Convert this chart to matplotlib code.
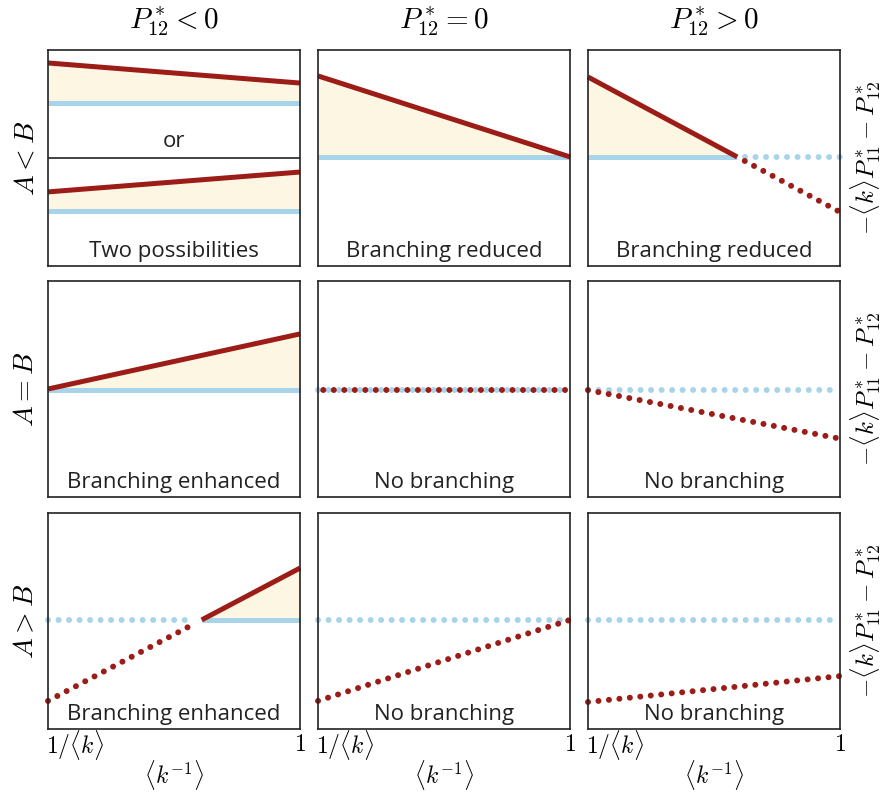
import numpy as np
import matplotlib.pyplot as plt

plt.rcParams['mathtext.fontset'] = 'cm'
plt.rcParams['font.family'] = ['Open Sans', 'DejaVu Sans']

RED = "#9c1c17"
BLUE = "#a8d4ea"
FILL = "#fdf6e2"

col_titles = [r"$P^*_{12} < 0$", r"$P^*_{12} = 0$", r"$P^*_{12} > 0$"]
row_labels = [r"$A < B$", r"$A = B$", r"$A > B$"]
right_label = r"$-\langle k\rangle P^*_{11} - P^*_{12}$"
captions = [["Two possibilities", "Branching reduced", "Branching reduced"],
            ["Branching enhanced", "No branching", "No branching"],
            ["Branching enhanced", "No branching", "No branching"]]

# red line end points (left, right) and blue level, in panel units
red_ends = [[None, (0.88, 0.505), (0.875, 0.25)],
            [(0.50, 0.755), (0.495, 0.495), (0.495, 0.27)],
            [(0.13, 0.745), (0.13, 0.505), (0.125, 0.245)]]
blue_level = [[None, 0.505, 0.505],
              [0.495, 0.495, 0.495],
              [0.505, 0.505, 0.505]]
# top-left panel: two sub cases
tl_red_top = (0.94, 0.847)
tl_blue_top = 0.755
tl_red_bot = (0.343, 0.435)
tl_blue_bot = 0.255
tl_divider = 0.5

W, H = 891, 793
fig = plt.figure(figsize=(W / 100, H / 100), dpi=100)

col_x = [48, 318, 588]
row_y = [50, 281, 513]
pw, ph = 252, 216

lw = 3.6


def solid(ax, x, y, c):
    ax.plot(x, y, color=c, lw=lw, solid_capstyle='butt', clip_on=False)


def dotted(ax, x, y, c, off=0):
    ax.plot(x, y, color=c, linestyle=(off, (0.01, 1.75)), dash_capstyle='round',
            lw=4.3, clip_on=False)


for r in range(3):
    for c in range(3):
        ax = fig.add_axes([col_x[c] / W, 1 - (row_y[r] + ph) / H, pw / W, ph / H])
        ax.set_xlim(0, 1)
        ax.set_ylim(0, 1)
        ax.set_xticks([])
        ax.set_yticks([])
        for s in ax.spines.values():
            s.set_linewidth(1.2)
            s.set_color("#222222")
        ax.text(0.5, 0.068, captions[r][c], ha='center', va='center',
                fontsize=16, color="#222222", transform=ax.transAxes)

        x = np.array([0.0, 1.0])
        if r == 0 and c == 0:
            ax.fill_between(x, [tl_blue_top] * 2, tl_red_top, color=FILL, lw=0)
            solid(ax, x, [tl_blue_top] * 2, BLUE)
            solid(ax, x, tl_red_top, RED)
            ax.fill_between(x, [tl_blue_bot] * 2, tl_red_bot, color=FILL, lw=0)
            solid(ax, x, [tl_blue_bot] * 2, BLUE)
            solid(ax, x, tl_red_bot, RED)
            ax.axhline(tl_divider, color="#222222", lw=1.2)
            ax.text(0.5, 0.575, "or", ha='center', va='center', fontsize=16,
                    color="#222222")
            continue

        yl, yr = red_ends[r][c]
        b = blue_level[r][c]
        slope = yr - yl
        if (r == 0 and c == 1) or (r == 1 and c == 0):
            ax.fill_between(x, [b] * 2, [yl, yr], color=FILL, lw=0)
            solid(ax, x, [b] * 2, BLUE)
            solid(ax, x, [yl, yr], RED)
        elif r == 0 and c == 2:
            xc = (b - yl) / slope
            ax.fill_between([0, xc], [b, b], [yl, b], color=FILL, lw=0)
            solid(ax, [0, xc], [b, b], BLUE)
            dotted(ax, [xc + 0.03, 1], [b, b], BLUE)
            solid(ax, [0, xc], [yl, b], RED)
            dotted(ax, [xc + 0.03, 1], [b + slope * 0.03, yr], RED)
        elif r == 2 and c == 0:
            xc = (b - yl) / slope
            ax.fill_between([xc, 1], [b, b], [b, yr], color=FILL, lw=0)
            solid(ax, [xc, 1], [b, b], BLUE)
            dotted(ax, [0, xc - 0.03], [b, b], BLUE)
            solid(ax, [xc, 1], [b, yr], RED)
            dotted(ax, [0, xc - 0.03], [yl, b - slope * 0.03], RED)
        else:
            dotted(ax, x, [b] * 2, BLUE)
            dotted(ax, x, [yl, yr], RED, off=0.88 if (r == 1 and c == 1) else 0)

# column titles
for c in range(3):
    fig.text((col_x[c] + pw / 2) / W, 1 - 22 / H, col_titles[c],
             ha='center', va='center', fontsize=21)
# row labels
for r in range(3):
    yc = 1 - (row_y[r] + ph / 2) / H
    fig.text(26 / W, yc, row_labels[r], rotation=90, ha='center', va='center',
             fontsize=20)
    fig.text(866 / W, yc, right_label, rotation=90, ha='center', va='center',
             fontsize=18)
# bottom ticks and labels
for c in range(3):
    fig.text((col_x[c] - 2) / W, 1 - 745 / H, r"$1/\langle k\rangle$",
             ha='left', va='center', fontsize=17)
    fig.text((col_x[c] + pw) / W, 1 - 745 / H, r"$1$",
             ha='center', va='center', fontsize=17)
    fig.text((col_x[c] + pw / 2) / W, 1 - 775 / H, r"$\langle k^{-1}\rangle$",
             ha='center', va='center', fontsize=17)

fig.savefig("out.png", dpi=100)
